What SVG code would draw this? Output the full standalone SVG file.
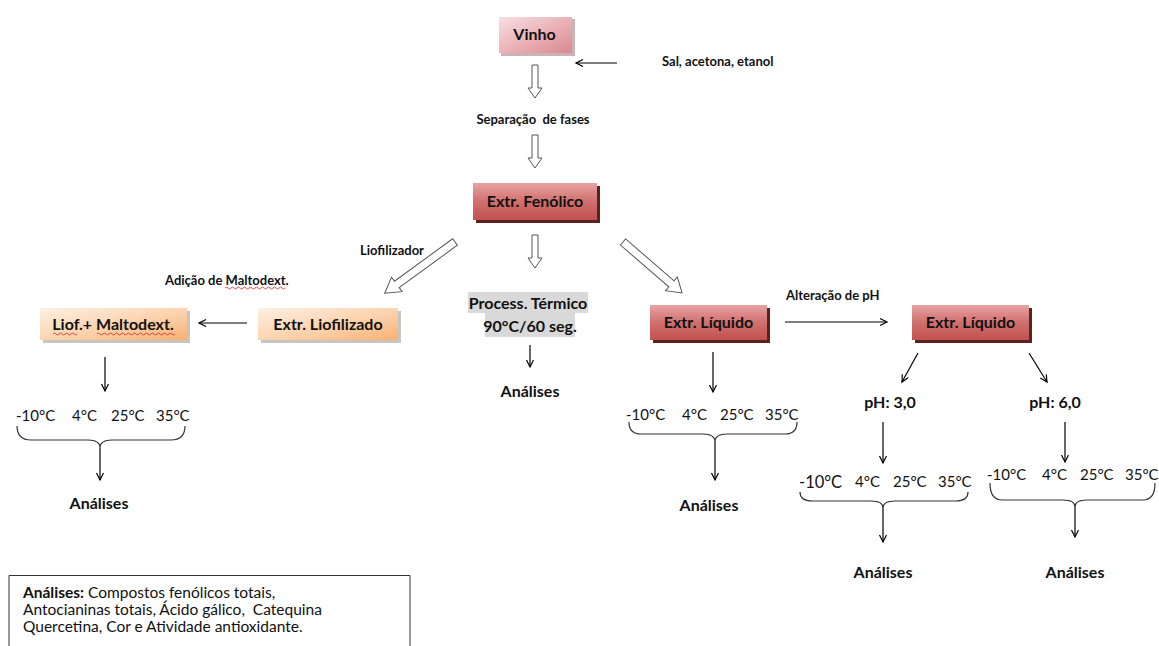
<svg xmlns="http://www.w3.org/2000/svg" width="1159" height="646" viewBox="0 0 1159 646">
<defs>
<linearGradient id="gPink" x1="0" y1="0" x2="1" y2="1">
<stop offset="0" stop-color="#f6dfe1"/><stop offset="0.6" stop-color="#e8aab0"/><stop offset="1" stop-color="#d98890"/>
</linearGradient>
<linearGradient id="gRed" x1="0" y1="0" x2="0" y2="1">
<stop offset="0" stop-color="#e7a3a2"/><stop offset="0.5" stop-color="#d0706e"/><stop offset="1" stop-color="#c2514f"/>
</linearGradient>
<linearGradient id="gPeach" x1="0" y1="0" x2="1" y2="1">
<stop offset="0" stop-color="#fef0e4"/><stop offset="0.6" stop-color="#fbcfa6"/><stop offset="1" stop-color="#f7b072"/>
</linearGradient>
<marker id="ah" markerWidth="10" markerHeight="10" refX="8" refY="4" orient="auto" markerUnits="userSpaceOnUse">
<path d="M1,0.5 L8,4 L1,7.5" fill="none" stroke="#000" stroke-width="1.2"/>
</marker>
</defs>
<style>
text{font-family:"Lato","Liberation Sans",sans-serif;fill:#111}
.b{font-weight:bold}
.box{font-weight:bold;font-size:16px}
.t{font-size:15px}
.s{font-weight:bold;font-size:13px}
.ln{stroke:#000;stroke-width:1.2;fill:none}
.ar{stroke:#000;stroke-width:1.2;fill:none;marker-end:url(#ah)}
.ho{fill:#fff;stroke:#555;stroke-width:1}
.br{stroke:#333;stroke-width:1.2;fill:none}
.sq{stroke:#e02020;stroke-width:0.8;fill:none}
</style>
<rect width="1159" height="646" fill="#fff"/>

<g id="connectors">
<line class="ar" x1="617" y1="63" x2="576" y2="63"/>
<polygon class="ho" points="532,65 538,65 538,88 542,88 535,98 528,88 532,88"/>
<polygon class="ho" points="532,135 538,135 538,158 542,158 535,168 528,158 532,158"/>
<polygon class="ho" points="532,235 538,235 538,258 542,258 535,268 528,258 532,258"/>
<polygon class="ho" transform="translate(455,242) rotate(53.9)" points="-4,0 4,0 4,72 9,72 0,87 -9,72 -4,72"/>
<polygon class="ho" transform="translate(623,242) rotate(-49.2)" points="-4,0 4,0 4,64 9,64 0,78 -9,64 -4,64"/>
<line class="ar" x1="247" y1="323" x2="199" y2="323"/>
<line class="ar" x1="785" y1="322" x2="887" y2="322"/>
<line class="ar" x1="105" y1="357" x2="105" y2="391"/>
<line class="ar" x1="530" y1="345" x2="530" y2="367"/>
<line class="ar" x1="713" y1="352" x2="713" y2="392"/>
<line class="ar" x1="918" y1="353" x2="902" y2="382"/>
<line class="ar" x1="1029" y1="353" x2="1047" y2="382"/>
<line class="ar" x1="883" y1="422" x2="883" y2="463"/>
<line class="ar" x1="1065" y1="422" x2="1065" y2="462"/>
<path class="br" d="M17,426 Q17,440 31,440 L88,440 Q100,440 100,448 Q100,440 112,440 L171,440 Q185,440 185,426"/>
<line class="ar" x1="100" y1="448" x2="100" y2="480"/>
<path class="br" d="M629,422 Q629,434 641,434 L703,434 Q715,434 715,442 Q715,434 727,434 L785,434 Q797,434 797,422"/>
<line class="ar" x1="715" y1="442" x2="715" y2="480"/>
<path class="br" d="M800,492 Q800,501 812,501 L871,501 Q883,501 883,508 Q883,501 895,501 L956,501 Q968,501 968,492"/>
<line class="ar" x1="883" y1="508" x2="883" y2="542"/>
<path class="br" d="M990,483 Q990,500 1002,500 L1063,500 Q1075,500 1075,507 Q1075,500 1087,500 L1143,500 Q1155,500 1155,483"/>
<line class="ar" x1="1075" y1="507" x2="1075" y2="537"/>
</g>

<g id="vinho">
<rect x="501" y="19" width="74" height="37" fill="#c9b3b5"/>
<rect x="499" y="17" width="73" height="36" fill="url(#gPink)"/>
<text class="box" x="534.5" y="40" text-anchor="middle">Vinho</text>
</g>
<g id="sal"><text class="s" x="662" y="66">Sal, acetona, etanol</text></g>
<g id="separacao"><text class="s" x="533" y="124" font-size="13.5" text-anchor="middle" xml:space="preserve">Separação  de fases</text></g>

<g id="fenolico">
<rect x="476" y="186" width="124" height="37" fill="#5b2220"/>
<rect x="473" y="183" width="124" height="37" fill="url(#gRed)"/>
<text class="box" x="535" y="207" text-anchor="middle">Extr. Fenólico</text>
</g>
<g id="liofilizador"><text class="s" x="360" y="255">Liofilizador</text></g>
<g id="adicao">
<text class="s" x="165" y="285">Adição de Maltodext.</text>
<path class="sq" d="M225,288 q1.5,-2 3,0 t3,0 t3,0 t3,0 t3,0 t3,0 t3,0 t3,0 t3,0 t3,0 t3,0 t3,0 t3,0 t3,0 t3,0 t3,0 t3,0 t3,0 t3,0 t3,0"/>
</g>

<g id="liofmalto">
<rect x="43" y="311" width="147" height="32" fill="#c8c4c0"/>
<rect x="40" y="308" width="147" height="32" fill="url(#gPeach)"/>
<text class="box" x="113" y="330" text-anchor="middle">Liof.+ Maltodext.</text>
<path class="sq" d="M53,334 q1.5,-2 3,0 t3,0 t3,0 t3,0 t3,0 t3,0 t3,0 t3,0"/>
<path class="sq" d="M97,334 q1.5,-2 3,0 t3,0 t3,0 t3,0 t3,0 t3,0 t3,0 t3,0 t3,0 t3,0 t3,0 t3,0 t3,0 t3,0 t3,0 t3,0 t3,0 t3,0 t3,0 t3,0 t3,0 t3,0 t3,0 t3,0 t3,0 t3,0"/>
</g>
<g id="extrliof">
<rect x="261" y="311" width="140" height="32" fill="#c8c4c0"/>
<rect x="258" y="308" width="140" height="32" fill="url(#gPeach)"/>
<text class="box" x="328" y="330" text-anchor="middle">Extr. Liofilizado</text>
</g>

<g id="process">
<rect x="468" y="292" width="120" height="21" fill="#d9d9d9"/>
<rect x="485" y="313" width="90" height="24" fill="#d9d9d9"/>
<text class="box" x="528" y="309" text-anchor="middle">Process. Térmico</text>
<text class="box" x="530" y="332" text-anchor="middle">90°C/60 seg.</text>
<text class="box" x="530" y="397" text-anchor="middle">Análises</text>
</g>

<g id="liquido1">
<rect x="653" y="308" width="117" height="35" fill="#5b2220"/>
<rect x="650" y="305" width="117" height="35" fill="url(#gRed)"/>
<text class="box" x="708.5" y="328" text-anchor="middle">Extr. Líquido</text>
</g>
<g id="alteracao"><text class="s" x="786" y="300">Alteração de pH</text></g>
<g id="liquido2">
<rect x="915" y="308" width="117" height="35" fill="#5b2220"/>
<rect x="912" y="305" width="117" height="35" fill="url(#gRed)"/>
<text class="box" x="970.5" y="328" text-anchor="middle">Extr. Líquido</text>
</g>

<g id="temps-left">
<text class="t" x="16" y="421">-10°C</text>
<text class="t" x="72" y="421">4°C</text>
<text class="t" x="111" y="421">25°C</text>
<text class="t" x="156" y="421">35°C</text>
<text class="box" x="99" y="509" text-anchor="middle">Análises</text>
</g>
<g id="temps-mid">
<text class="t" x="626" y="420">-10°C</text>
<text class="t" x="682" y="420">4°C</text>
<text class="t" x="720" y="420">25°C</text>
<text class="t" x="765" y="420">35°C</text>
<text class="box" x="709" y="511" text-anchor="middle">Análises</text>
</g>
<g id="ph3">
<text class="box" x="890" y="408" text-anchor="middle">pH: 3,0</text>
<text x="799" y="488" font-size="16.5">-10°C</text>
<text class="t" x="855" y="487">4°C</text>
<text class="t" x="893" y="487">25°C</text>
<text class="t" x="938" y="487">35°C</text>
<text class="box" x="883" y="578" text-anchor="middle">Análises</text>
</g>
<g id="ph6">
<text class="box" x="1055" y="408" text-anchor="middle">pH: 6,0</text>
<text class="t" x="987" y="480">-10°C</text>
<text class="t" x="1042" y="480">4°C</text>
<text class="t" x="1080" y="480">25°C</text>
<text class="t" x="1125" y="480">35°C</text>
<text class="box" x="1075" y="578" text-anchor="middle">Análises</text>
</g>

<g id="legend">
<path d="M9,650 L9,575.5 L410,575.5 L410,650" fill="#fff" stroke="#333" stroke-width="1"/>
<text x="23" y="598" font-size="15.5"><tspan class="b">Análises:</tspan> Compostos fenólicos totais,</text>
<text x="23" y="615" font-size="15.5" xml:space="preserve">Antocianinas totais, Ácido gálico,  Catequina</text>
<text x="23" y="632" font-size="15.5">Quercetina, Cor e Atividade antioxidante.</text>
</g>
</svg>
